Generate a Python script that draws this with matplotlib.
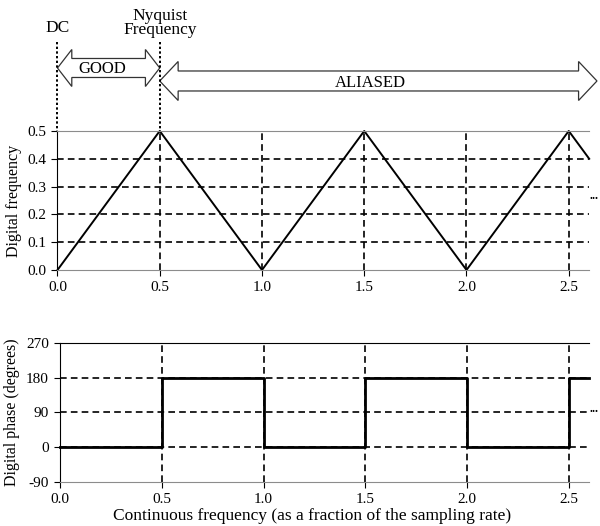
import numpy as np
import matplotlib.pyplot as plt
from matplotlib.patches import Polygon

plt.rcParams['font.family'] = ['Liberation Serif', 'DejaVu Serif']
plt.rcParams['axes.unicode_minus'] = False

# digital frequency vs continuous frequency (fraction of sampling rate)
freq_x = [0.0, 0.5, 1.0, 1.5, 2.0, 2.5, 2.6]
freq_y = [0.0, 0.5, 0.0, 0.5, 0.0, 0.5, 0.4]

# digital phase (degrees)
phase_x = [0.0, 0.5, 0.5, 1.0, 1.0, 1.5, 1.5, 2.0, 2.0, 2.5, 2.5, 2.6]
phase_y = [0, 0, 180, 180, 0, 0, 180, 180, 0, 0, 180, 180]

x_ticks = [0.0, 0.5, 1.0, 1.5, 2.0, 2.5]
x_labels = ['0.0', '0.5', '1.0', '1.5', '2.0', '2.5']
freq_ticks = [0.0, 0.1, 0.2, 0.3, 0.4, 0.5]
phase_ticks = [-90, 0, 90, 180, 270]

dash = (0, (4, 2.5))
gray = '#8c8c8c'


def style_axes(ax, top_color):
    ax.spines['right'].set_visible(False)
    ax.spines['top'].set_color(top_color)
    ax.spines['bottom'].set_color(gray)
    ax.spines['left'].set_color('black')
    ax.tick_params(direction='out', length=4, labelsize=11, pad=4)
    ax.set_xlim(0, 2.6)
    ax.set_xticks(x_ticks)
    ax.set_xticklabels(x_labels)


def double_arrow(ax, x0, x1, yc, body, head, hlen):
    pts = [(x0, yc), (x0 + hlen, yc - head), (x0 + hlen, yc - body),
           (x1 - hlen, yc - body), (x1 - hlen, yc - head), (x1, yc),
           (x1 - hlen, yc + head), (x1 - hlen, yc + body),
           (x0 + hlen, yc + body), (x0 + hlen, yc + head)]
    ax.add_patch(Polygon(pts, closed=True, facecolor='white',
                         edgecolor='#333333', lw=0.9, clip_on=False))


fig = plt.figure(figsize=(6, 5.26), dpi=100)

# top panel
ax1 = fig.add_axes([0.0958, 0.4867, 0.8862, 0.2643])
style_axes(ax1, gray)
ax1.set_ylim(0, 0.5)
ax1.set_yticks(freq_ticks)
ax1.set_yticklabels(['%.1f' % v for v in freq_ticks])
for y in freq_ticks[1:-1]:
    ax1.axhline(y, color='black', lw=1.2, ls=dash)
for x in x_ticks[1:]:
    ax1.axvline(x, color='black', lw=1.2, ls=dash)
ax1.plot(freq_x, freq_y, color='black', lw=1.4, clip_on=False)
ax1.set_ylabel('Digital frequency', fontsize=11.5, labelpad=4)
ax1.text(2.6, 0.265, '...', fontsize=9, fontweight='bold', va='center',
         ha='left', clip_on=False)

# bottom panel
ax2 = fig.add_axes([0.1, 0.0837, 0.882, 0.2643])
style_axes(ax2, 'black')
ax2.set_ylim(-90, 270)
ax2.set_yticks(phase_ticks)
for y in [0, 90, 180]:
    ax2.axhline(y, color='black', lw=1.2, ls=dash)
for x in x_ticks[1:]:
    ax2.axvline(x, color='black', lw=1.2, ls=dash)
ax2.plot(phase_x, phase_y, color='black', lw=2, clip_on=False)
ax2.set_ylabel('Digital phase (degrees)', fontsize=11.5, labelpad=4)
ax2.set_xlabel('Continuous frequency (as a fraction of the sampling rate)',
               fontsize=12.5)
ax2.xaxis.set_label_coords(0.476, -0.19)
ax2.text(2.6, 100, '...', fontsize=9, fontweight='bold', va='center',
         ha='left', clip_on=False)

# annotation strip above, y in pixels from top of figure
ax0 = fig.add_axes([0.0958, 0.7510, 0.8862, 0.2490])
ax0.set_xlim(0, 2.6)
ax0.set_ylim(131, 0)
ax0.axis('off')
for x in [0.0, 0.5]:
    ax0.plot([x, x], [42, 131], color='black', lw=1.4, ls=(0, (1.2, 1.2)),
             clip_on=False)
ax0.text(0.0, 28, 'DC', ha='center', va='center', fontsize=12.5)
ax0.text(0.5, 23, 'Nyquist\nFrequency', ha='center', va='center',
         fontsize=12.5, linespacing=0.85)
double_arrow(ax0, 0.0, 0.5, 68, 9.5, 18.5, 0.07)
ax0.text(0.22, 69, 'GOOD', ha='center', va='center', fontsize=12)
double_arrow(ax0, 0.5, 2.638, 81, 10, 19.5, 0.09)
ax0.text(1.53, 83, 'ALIASED', ha='center', va='center', fontsize=12)

fig.savefig('out.png', dpi=100)
